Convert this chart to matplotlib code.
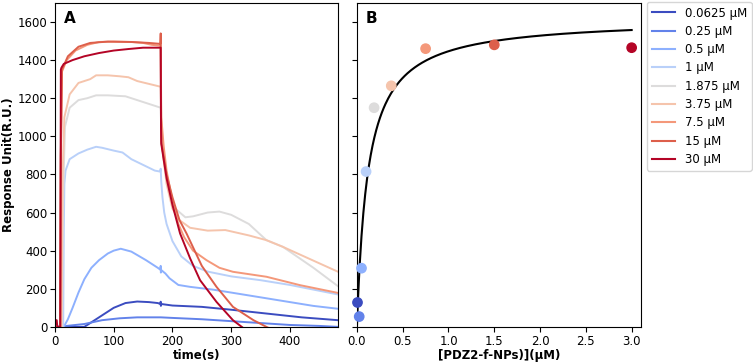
import numpy as np
import matplotlib.pyplot as plt
from matplotlib.lines import Line2D

# concentrations (legend) and colours from coolwarm
conc_labels = ['0.0625 μM', '0.25 μM', '0.5 μM', '1 μM', '1.875 μM',
               '3.75 μM', '7.5 μM', '15 μM', '30 μM']
colors = plt.cm.coolwarm(np.linspace(0, 1, 9))

# --- panel A: sensorgrams, (time s, response R.U.) ---
t_0625 = [0, 50, 60, 80, 100, 120, 140, 160, 175, 179.5, 180, 180.3, 181, 200, 250, 300, 360, 420, 482]
r_0625 = [0, 0, 20, 60, 100, 125, 133, 130, 125, 120, 132, 110, 120, 112, 105, 90, 70, 50, 35]

t_025 = [0, 20, 50, 80, 110, 140, 180, 200, 250, 300, 350, 400, 450, 482]
r_025 = [0, 5, 15, 35, 45, 50, 50, 47, 40, 30, 20, 10, 5, 0]

t_05 = [0, 15, 22, 30, 40, 50, 62, 75, 90, 100, 112, 130, 155, 175, 179.5, 180, 180.3, 181,
        188, 195, 210, 230, 270, 320, 380, 440, 482]
r_05 = [0, 0, 40, 100, 180, 250, 310, 350, 385, 400, 410, 395, 350, 310, 300, 320, 285, 298,
        280, 255, 220, 210, 195, 170, 140, 110, 95]

t_1 = [0, 14, 15, 16, 18, 25, 40, 55, 70, 80, 100, 115, 130, 150, 170, 179, 180, 181,
       183, 186, 190, 200, 215, 235, 260, 300, 350, 400, 482]
r_1 = [0, 0, 500, 750, 820, 880, 910, 930, 945, 940, 925, 915, 880, 850, 820, 815, 830, 760,
       680, 600, 540, 450, 370, 320, 290, 265, 245, 220, 170]

t_1875 = [0, 12, 14, 17, 25, 40, 55, 70, 90, 120, 130, 150, 180, 181, 184, 190, 195, 205,
          222, 235, 260, 280, 300, 330, 360, 388, 440, 482]
r_1875 = [0, 0, 700, 1050, 1150, 1190, 1200, 1215, 1215, 1210, 1200, 1180, 1150, 1050, 900, 780,
          700, 620, 575, 580, 600, 605, 588, 540, 455, 420, 310, 213]

t_375 = [0, 11, 13, 16, 25, 40, 50, 60, 70, 90, 110, 125, 140, 160, 180, 181, 184, 190, 200,
         212, 230, 260, 290, 330, 360, 388, 482]
r_375 = [0, 0, 800, 1100, 1220, 1280, 1290, 1300, 1320, 1320, 1315, 1310, 1290, 1275, 1260, 1100,
         900, 750, 620, 560, 520, 505, 508, 480, 455, 420, 289]

t_75 = [0, 9, 10, 12, 20, 35, 55, 75, 100, 130, 150, 165, 180, 181, 185, 190, 200, 210, 220,
        235, 258, 280, 303, 360, 417, 482]
r_75 = [0, 0, 900, 1340, 1400, 1450, 1480, 1495, 1497, 1495, 1490, 1480, 1475, 1100, 950, 820,
        660, 540, 470, 400, 350, 310, 289, 263, 219, 178]

t_15 = [0, 9, 10, 12, 22, 40, 60, 90, 130, 160, 179.5, 180, 180.5, 181, 190, 200, 212, 224,
        250, 275, 303, 338, 360, 380]
r_15 = [0, 0, 900, 1350, 1420, 1470, 1490, 1497, 1495, 1490, 1485, 1540, 1100, 970, 800, 680,
        560, 490, 320, 210, 105, 35, 0, -30]

t_30 = [0, 1, 3, 4, 9, 10, 11, 15, 30, 50, 75, 100, 125, 150, 180, 180.5, 181, 190, 200, 213,
        230, 247, 275, 303, 318, 335]
r_30 = [0, 35, 35, 0, 0, 1350, 1360, 1380, 1400, 1420, 1437, 1450, 1458, 1465, 1465, 1050, 960,
        780, 640, 490, 360, 245, 131, 35, 0, -40]

times = [t_0625, t_025, t_05, t_1, t_1875, t_375, t_75, t_15, t_30]
resps = [r_0625, r_025, r_05, r_1, r_1875, r_375, r_75, r_15, r_30]

# --- panel B: steady-state response vs. NP concentration ---
np_conc = [0.00625, 0.025, 0.05, 0.1, 0.1875, 0.375, 0.75, 1.5, 3.0]
np_resp = [128, 54, 308, 815, 1150, 1265, 1460, 1480, 1465]

# one-site binding fit parameters
fit_bmax = 1620
fit_kd = 0.12

fig = plt.figure(figsize=(7.53, 3.64), dpi=100)
ax_a = fig.add_axes([0.073, 0.102, 0.376, 0.890])
ax_b = fig.add_axes([0.474, 0.102, 0.377, 0.890])

for t, r, c in zip(times, resps, colors):
    ax_a.plot(t, r, color=c, linewidth=1.4)

ax_a.set_xlim(0, 482)
ax_a.set_ylim(0, 1700)
ax_a.set_xticks([0, 100, 200, 300, 400])
ax_a.set_yticks(range(0, 1601, 200))
ax_a.set_xlabel('time(s)', fontweight='bold', fontsize=8.5, labelpad=1)
ax_a.set_ylabel('Response Unit(R.U.)', fontweight='bold', fontsize=8.5, labelpad=2)
ax_a.text(0.03, 0.975, 'A', transform=ax_a.transAxes, fontsize=11,
          fontweight='bold', va='top', ha='left')

x_fit = np.linspace(0, 3.0, 300)
ax_b.plot(x_fit, fit_bmax * x_fit / (fit_kd + x_fit), color='black', linewidth=1.5, zorder=2)
ax_b.scatter(np_conc, np_resp, color=colors, s=45, zorder=3, clip_on=False)
ax_b.set_xlim(0, 3.1)
ax_b.set_ylim(0, 1700)
ax_b.set_xticks(np.arange(0, 3.01, 0.5))
ax_b.set_yticks(range(0, 1601, 200))
ax_b.set_yticklabels([])
ax_b.set_xlabel('[PDZ2-f-NPs)](μM)', fontweight='bold', fontsize=8.5, labelpad=1)
ax_b.text(0.03, 0.975, 'B', transform=ax_b.transAxes, fontsize=11,
          fontweight='bold', va='top', ha='left')

for ax in (ax_a, ax_b):
    ax.tick_params(labelsize=8.5, length=3.5, pad=2)

handles = [Line2D([0], [0], color=c, linewidth=1.5) for c in colors]
fig.legend(handles, conc_labels, loc='upper left', bbox_to_anchor=(0.859, 0.995),
           fontsize=8.5, frameon=True, handlelength=2.0, labelspacing=0.45,
           borderaxespad=0)

fig.savefig('out.png', dpi=100)
